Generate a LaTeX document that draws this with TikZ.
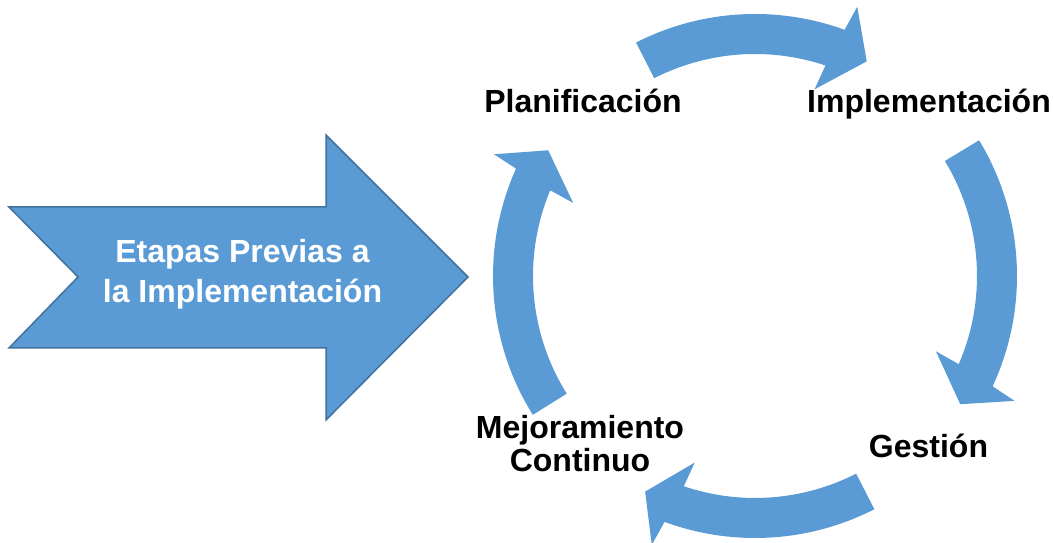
\documentclass[tikz,border=0pt]{standalone}
\usepackage{fontspec}
\setmainfont{Liberation Sans}
\definecolor{cyc}{HTML}{5B9BD5}
\definecolor{cycline}{HTML}{41719C}
\begin{document}
\begin{tikzpicture}[x=1pt,y=1pt,
  lbl/.style={font=\fontsize{32}{33}\selectfont\bfseries, text=black, inner sep=0pt, align=center},
  arrowlbl/.style={font=\fontsize{32}{40}\selectfont\bfseries, text=white, inner sep=0pt, align=center},
  cycarrow/.style={fill=cyc, draw=none}]
\useasboundingbox (0,0) rectangle (1053,543);
% big arrow
\draw[fill=cyc, draw=cycline, line width=1.5pt, line join=miter]
  (9,336) -- (326,336) -- (326,408) -- (468,266) -- (326,123) -- (326,195) -- (9,195) -- (78,266) -- cycle;
\node[arrowlbl, anchor=base] (prev) at (242.5,240) {Etapas Previas a\\la Implementación};
% cycle arrows: #1 tail angle, #2 head base, #3 tip
\newcommand{\cycarr}[3]{%
  \fill[cyc, shift={(755,267)}]
    (#1:262pt) arc[start angle=#1, end angle={#2-0.7}, radius=262pt]
    -- ({#2-1.5}:288pt) -- (#3:242pt) -- ({#2+1.6}:196pt) -- ({#2+0.8}:222pt)
    arc[start angle={#2+0.8}, end angle=#1, radius=222pt] -- cycle;}
\cycarr{117}{70.7}{62.5}
\cycarr{31.2}{-24.2}{-32}
\cycarr{-62.9}{-109.5}{-117}
\cycarr{-148}{-203.5}{-211.3}
% labels
\node[lbl, anchor=base] (plan) at (583,430) {Planificación};
\node[lbl, anchor=base] (impl) at (929,430) {Implementación};
\node[lbl, anchor=base] (gest) at (928.5,85) {Gestión};
\node[lbl, anchor=base] (mejo) at (580,71) {Mejoramiento\\Continuo};
\end{tikzpicture}
\end{document}
